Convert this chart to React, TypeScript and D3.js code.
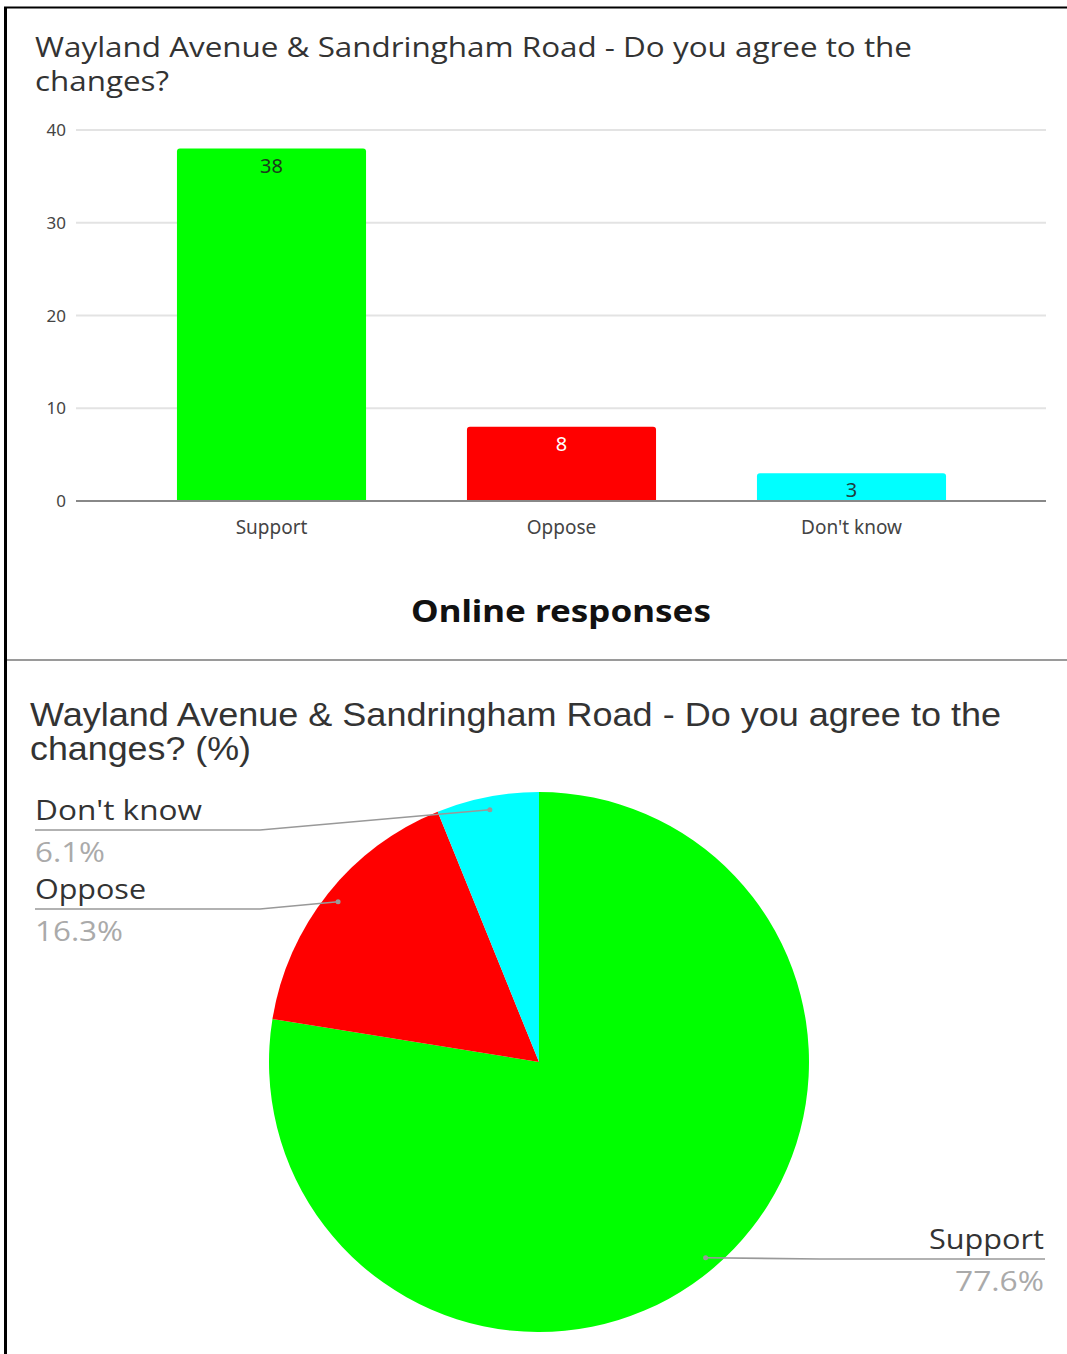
import React from "react";
import * as d3 from "d3";

const categories = ["Support", "Oppose", "Don't know"];
const responses = [38, 8, 3];
const barColors = ["#00ff00", "#ff0000", "#00ffff"];
const valueLabelColors = ["#1b3b1b", "#ffffff", "#1f3f3f"];
const yTicks = [0, 10, 20, 30, 40];
const barTitleLines = ["Wayland Avenue & Sandringham Road - Do you agree to the", "changes?"];
const pieTitleLines = ["Wayland Avenue & Sandringham Road - Do you agree to the", "changes? (%)"];
const xAxisTitle = "Online responses";

const W = 1067;
const H = 1354;

function roundedTopBar(x: number, y: number, w: number, h: number, r: number) {
  const rr = Math.min(r, h, w / 2);
  return `M${x},${y + h}V${y + rr}Q${x},${y} ${x + rr},${y}H${x + w - rr}Q${x + w},${y} ${x + w},${y + rr}V${y + h}Z`;
}

export default function App() {
  const y = d3.scaleLinear().domain([0, 40]).range([501, 130]);
  const x = d3
    .scaleBand<string>()
    .domain(categories)
    .range([126.5, 996.5])
    .paddingInner(0.348)
    .paddingOuter(0.174);

  const total = d3.sum(responses);
  const pie = d3.pie<number>().sort(null).value((d) => d);
  const arcs = pie(responses);
  const cx = 539;
  const cy = 1062;
  const R = 270;
  const arcGen = d3.arc<d3.PieArcDatum<number>>().innerRadius(0).outerRadius(R);
  const dotArc = d3.arc<d3.PieArcDatum<number>>().innerRadius(257).outerRadius(257);
  const fmt = (v: number) => `${((v / total) * 100).toFixed(1)}%`;

  const pieLabelLayout: Record<string, { lx: number; ly: number; ex: number; anchor: "start" | "end"; endX: number; nameW: number; pctW: number }> = {
    "Don't know": { lx: 35, ly: 830, ex: 260, anchor: "start", endX: 35, nameW: 167, pctW: 70 },
    Oppose: { lx: 35, ly: 909, ex: 260, anchor: "start", endX: 35, nameW: 111, pctW: 88 },
    Support: { lx: 1044, ly: 1259, ex: 820, anchor: "end", endX: 1045, nameW: 115, pctW: 89 },
  };

  const barFont = "'Noto Sans', 'Open Sans', sans-serif";
  const calFont = "'Open Sans', 'Noto Sans', sans-serif";
  const arialFont = "'Liberation Sans', Arial, sans-serif";

  return (
    <svg
      width={W}
      height={H}
      viewBox={`0 0 ${W} ${H}`}
      style={{ position: "absolute", left: 0, top: 0, background: "#fff" }}
    >
      <rect x={0} y={0} width={W} height={H} fill="#fff" />
      <line x1={5.5} y1={7} x2={5.5} y2={H} stroke="#000" strokeWidth={3} />
      <line x1={4} y1={7.5} x2={W} y2={7.5} stroke="#000" strokeWidth={2} />
      <line x1={7} y1={660} x2={W} y2={660} stroke="#9a9a9a" strokeWidth={2} />

      <text x={35} y={57} fontFamily={calFont} fontSize={27} fill="#333" textLength={877} lengthAdjust="spacingAndGlyphs">
        {barTitleLines[0]}
      </text>
      <text x={35} y={91} fontFamily={calFont} fontSize={27} fill="#333" textLength={134} lengthAdjust="spacingAndGlyphs">
        {barTitleLines[1]}
      </text>

      {yTicks.map((t) => (
        <g key={t}>
          {t !== 0 && <line x1={76} x2={1046} y1={y(t)} y2={y(t)} stroke="#e3e3e3" strokeWidth={2} />}
          <text x={66} y={y(t) + 6} textAnchor="end" fontFamily={barFont} fontSize={17} fill="#444">
            {t}
          </text>
        </g>
      ))}

      {categories.map((c, i) => {
        const bx = x(c)!;
        const bw = x.bandwidth();
        const top = y(responses[i]);
        return (
          <g key={c}>
            <path d={roundedTopBar(bx, top, bw, y(0) - top, 3)} fill={barColors[i]} />
            <text
              x={bx + bw / 2}
              y={top + 24}
              textAnchor="middle"
              fontFamily={barFont}
              fontSize={20}
              fill={valueLabelColors[i]}
            >
              {responses[i]}
            </text>
            <text x={bx + bw / 2} y={534} textAnchor="middle" fontFamily={barFont} fontSize={19} fill="#444">
              {c}
            </text>
          </g>
        );
      })}
      <line x1={76} x2={1046} y1={y(0)} y2={y(0)} stroke="#888" strokeWidth={2} />

      <text
        x={561}
        y={622}
        textAnchor="middle"
        fontFamily={barFont}
        fontWeight="bold"
        fontSize={31}
        fill="#111"
        textLength={300}
        lengthAdjust="spacingAndGlyphs"
      >
        {xAxisTitle}
      </text>

      <text x={30} y={726} fontFamily={arialFont} fontSize={33} fill="#333" textLength={971} lengthAdjust="spacingAndGlyphs">
        {pieTitleLines[0]}
      </text>
      <text x={30} y={760} fontFamily={arialFont} fontSize={33} fill="#333" textLength={221} lengthAdjust="spacingAndGlyphs">
        {pieTitleLines[1]}
      </text>

      <g transform={`translate(${cx},${cy})`}>
        {arcs.map((a, i) => (
          <path key={categories[i]} d={arcGen(a) || ""} fill={barColors[i]} />
        ))}
      </g>

      {arcs.map((a, i) => {
        const c = categories[i];
        const L = pieLabelLayout[c];
        const [dx, dy] = dotArc.centroid(a);
        const px = cx + dx;
        const py = cy + dy;
        return (
          <g key={`lbl-${c}`}>
            <polyline
              points={`${px},${py} ${L.ex},${L.ly} ${L.endX},${L.ly}`}
              fill="none"
              stroke="#999"
              strokeWidth={1.6}
            />
            <circle cx={px} cy={py} r={2.5} fill="#999" />
            <text
              x={L.lx}
              y={L.ly - 10}
              textAnchor={L.anchor}
              fontFamily={calFont}
              fontSize={28}
              fill="#333"
              textLength={L.nameW}
              lengthAdjust="spacingAndGlyphs"
            >
              {c}
            </text>
            <text
              x={L.lx}
              y={L.ly + 32}
              textAnchor={L.anchor}
              fontFamily={calFont}
              fontSize={28}
              fill="#aaa"
              textLength={L.pctW}
              lengthAdjust="spacingAndGlyphs"
            >
              {fmt(responses[i])}
            </text>
          </g>
        );
      })}
    </svg>
  );
}
